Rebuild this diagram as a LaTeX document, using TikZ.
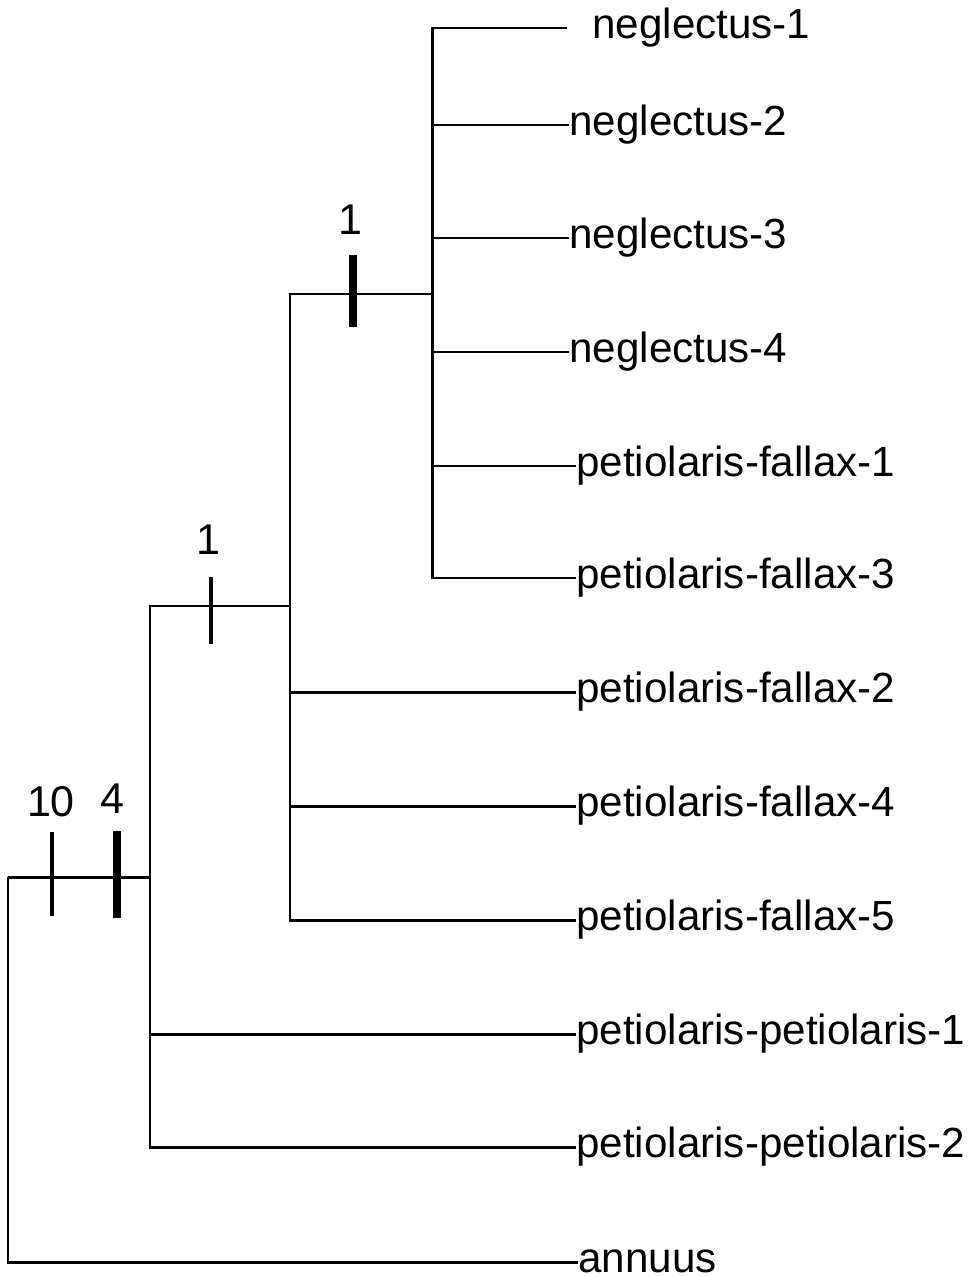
\documentclass[tikz,border=0pt]{standalone}
\usepackage{fontspec}
\setmainfont{Liberation Sans}
\usetikzlibrary{positioning}
\tikzset{
  taxon/.style={anchor=west, inner sep=0pt, text height=12.4pt, text depth=0pt,
    font=\fontsize{24}{28}\selectfont},
  support/.style={inner sep=0pt, font=\fontsize{24.5}{28}\selectfont},
  branch/.style={line width=1.7pt},
  thintick/.style={line width=2.2pt},
  boldtick/.style={line width=4pt},
  every node/.style={anchor=center}
}

\begin{document}
\begin{tikzpicture}[x=0.02cm, y=-0.02cm]
\useasboundingbox (0,0) rectangle (975,1277);

% nodi interni
\coordinate (root) at (8,877);
\coordinate (nC) at (150,877);
\coordinate (nB) at (290,606);
\coordinate (nA) at (432,294);

% taxa
\node[taxon] (ne1) at (592,28) {neglectus-1};
\node[taxon] (ne2) at (569,125) {neglectus-2};
\node[taxon] (ne3) at (569,238) {neglectus-3};
\node[taxon] (ne4) at (569,352) {neglectus-4};
\node[taxon] (pf1) at (576,466) {petiolaris-fallax-1};
\node[taxon] (pf3) at (576,578) {petiolaris-fallax-3};
\node[taxon] (pf2) at (576,692) {petiolaris-fallax-2};
\node[taxon] (pf4) at (576,806) {petiolaris-fallax-4};
\node[taxon] (pf5) at (576,920) {petiolaris-fallax-5};
\node[taxon] (pp1) at (576,1034) {petiolaris-petiolaris-1};
\node[taxon] (pp2) at (576,1147) {petiolaris-petiolaris-2};
\node[taxon] (an) at (578,1262) {annuus};

% rami
\draw[branch] (root) -- (nC);
\draw[branch] (root) |- (an.west);
\draw[branch] (nC) |- (nB);
\draw[branch] (nC) |- (pp1.west);
\draw[branch] (nC) |- (pp2.west);
\draw[branch] (nB) |- (nA);
\draw[branch] (nB) |- (pf2.west);
\draw[branch] (nB) |- (pf4.west);
\draw[branch] (nB) |- (pf5.west);
\draw[branch, shorten >=0.5cm] (nA) |- (ne1.west);
\draw[branch] (nA) |- (ne2.west);
\draw[branch] (nA) |- (ne3.west);
\draw[branch] (nA) |- (ne4.west);
\draw[branch] (nA) |- (pf1.west);
\draw[branch] (nA) |- (pf3.west);

% caratteri
\draw[thintick] (52,832) -- (52,916);
\draw[boldtick] (117,831) -- (117,918);
\draw[thintick] (211,577) -- (211,644);
\draw[boldtick] (353,255) -- (353,327);

\node[support] (s10) at (51,802) {10};
\node[support] (s4) at (112,799) {4};
\node[support] (sB) at (208,540) {1};
\node[support] (sA) at (350,220) {1};

\end{tikzpicture}
\end{document}
